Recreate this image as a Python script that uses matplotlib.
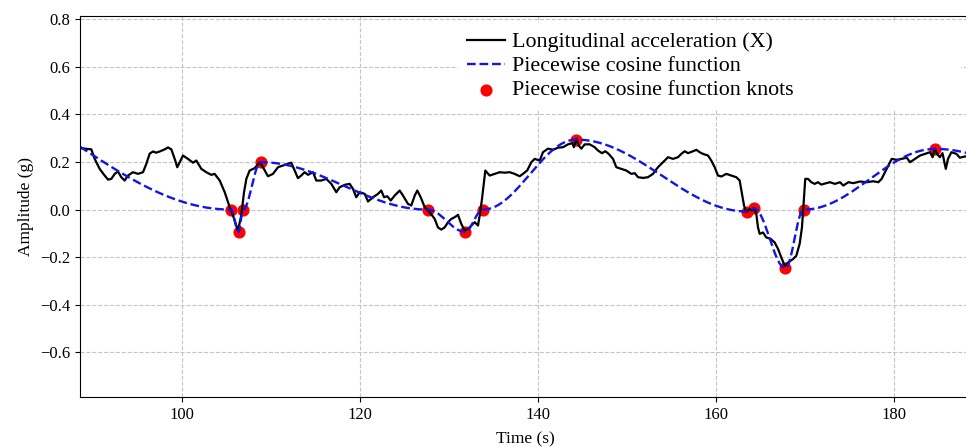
import numpy as np
import matplotlib
matplotlib.use("Agg")
import matplotlib.pyplot as plt

plt.rcParams['font.family'] = ['Liberation Serif', 'DejaVu Serif']

# longitudinal acceleration trace (s, g)
time_s = [
    88.6, 89.81, 90.19, 90.75, 91.31, 91.69, 92.06, 92.44, 92.81, 93.18,
    93.56, 93.93, 94.49, 95.06, 95.62, 95.99, 96.37, 96.74, 97.11, 97.49,
    98.06, 98.43, 98.80, 99.18, 99.47, 99.74, 100.11, 100.67, 101.24, 101.61,
    102.17, 102.73, 103.29, 103.67, 104.24, 104.80, 105.36, 105.73, 106.29, 106.66,
    106.97, 107.23, 107.6, 108.17, 108.73, 109.1, 109.66, 110.22, 110.79, 111.35,
    111.91, 112.28, 112.66, 113.03, 113.4, 113.78, 114.16, 114.72, 115.09, 115.65,
    116.21, 116.78, 117.34, 117.72, 118.28, 118.84, 119.21, 119.58, 119.97, 120.53,
    120.9, 121.46, 122.02, 122.39, 122.7, 123.07, 123.45, 123.9, 124.46, 124.83,
    125.39, 125.76, 126.15, 126.44, 126.82, 127.27, 127.83, 128.39, 128.76, 129.13,
    129.51, 129.89, 130.26, 130.64, 131.01, 131.38, 131.76, 132.13, 132.51, 132.89,
    133.26, 133.45, 133.71, 133.93, 134.08, 134.57, 135.13, 135.7, 136.26, 136.82,
    137.38, 137.94, 138.31, 138.8, 139.25, 139.63, 140.19, 140.56, 141.12, 141.69,
    142.25, 142.81, 143.37, 143.85, 144.04, 144.3, 144.57, 144.87, 145.25, 145.81,
    146.37, 146.74, 147.19, 147.56, 147.94, 148.43, 148.8, 149.36, 149.92, 150.49,
    150.87, 151.24, 151.8, 152.36, 152.92, 153.48, 154.04, 154.61, 155.17, 155.73,
    156.1, 156.48, 156.85, 157.42, 157.79, 158.17, 158.54, 159.1, 159.47, 159.85,
    160.22, 160.6, 161.16, 161.72, 162.28, 162.66, 162.92, 163.15, 163.4, 163.78,
    164.04, 164.27, 164.53, 164.72, 164.91, 165.28, 165.65, 166.14, 166.59, 166.97,
    167.34, 167.72, 168.09, 168.65, 169.02, 169.4, 169.66, 169.89, 170.03, 170.34,
    170.71, 171.09, 171.46, 171.83, 172.39, 172.81, 173.37, 173.93, 174.31, 174.87,
    175.43, 176.18, 176.93, 177.67, 178.24, 178.61, 179.18, 179.74, 180.3, 180.86,
    181.43, 181.8, 182.36, 182.92, 183.48, 184.04, 184.34, 184.6, 184.85, 185.15,
    185.45, 185.82, 186.07, 186.45, 187.02, 187.39, 187.96, 188.6,
]
accel_g = [
    0.258, 0.253, 0.213, 0.171, 0.143, 0.126, 0.129, 0.150, 0.160, 0.136,
    0.122, 0.143, 0.157, 0.150, 0.157, 0.192, 0.235, 0.244, 0.239, 0.244,
    0.253, 0.261, 0.253, 0.213, 0.178, 0.199, 0.227, 0.213, 0.197, 0.206,
    0.171, 0.157, 0.146, 0.150, 0.122, 0.073, 0.010, -0.025, -0.088, -0.025,
    0.073, 0.129, 0.164, 0.174, 0.199, 0.178, 0.140, 0.150, 0.178, 0.185,
    0.192, 0.197, 0.164, 0.132, 0.143, 0.157, 0.146, 0.157, 0.122, 0.122,
    0.129, 0.108, 0.073, 0.094, 0.104, 0.108, 0.087, 0.052, 0.073, 0.066,
    0.034, 0.052, 0.066, 0.080, 0.052, 0.056, 0.038, 0.059, 0.080, 0.059,
    0.024, 0.017, 0.059, 0.080, 0.052, 0.010, -0.011, -0.039, -0.075, -0.084,
    -0.075, -0.053, -0.039, -0.032, -0.022, -0.060, -0.088, -0.081, -0.067, -0.053,
    -0.067, -0.025, 0.045, 0.115, 0.164, 0.143, 0.150, 0.157, 0.155, 0.157,
    0.150, 0.140, 0.150, 0.165, 0.199, 0.213, 0.206, 0.241, 0.256, 0.251,
    0.260, 0.262, 0.274, 0.279, 0.262, 0.298, 0.269, 0.256, 0.274, 0.274,
    0.262, 0.248, 0.237, 0.245, 0.234, 0.213, 0.178, 0.171, 0.164, 0.150,
    0.153, 0.136, 0.133, 0.136, 0.150, 0.178, 0.199, 0.220, 0.213, 0.220,
    0.234, 0.245, 0.237, 0.245, 0.251, 0.241, 0.234, 0.227, 0.206, 0.178,
    0.143, 0.139, 0.150, 0.143, 0.136, 0.122, 0.066, 0.017, -0.011, 0.003,
    -0.004, 0.007, -0.018, -0.075, -0.102, -0.096, -0.117, -0.123, -0.138, -0.165,
    -0.201, -0.236, -0.222, -0.208, -0.194, -0.144, -0.075, 0.052, 0.129, 0.129,
    0.115, 0.108, 0.115, 0.105, 0.111, 0.115, 0.108, 0.115, 0.101, 0.115,
    0.111, 0.118, 0.115, 0.119, 0.115, 0.129, 0.171, 0.213, 0.209, 0.213,
    0.218, 0.199, 0.213, 0.227, 0.234, 0.241, 0.220, 0.256, 0.234, 0.220,
    0.237, 0.171, 0.213, 0.241, 0.234, 0.218, 0.223, 0.225,
]

# knots of the piecewise cosine fit (first and last lie outside the window)
knot_time = [71.5, 105.5, 106.35, 106.85, 108.85, 127.6, 131.8, 133.8,
             144.3, 163.5, 164.25, 167.8, 169.85, 184.65, 198.0]
knot_accel = [0.53, 0.0, -0.093, 0.0, 0.199, 0.0, -0.093, 0.0,
              0.294, -0.008, 0.005, -0.246, 0.0, 0.255, 0.15]

x_ticks = [100, 120, 140, 160, 180]
y_ticks = [-0.6, -0.4, -0.2, 0.0, 0.2, 0.4, 0.6, 0.8]


def piecewise_cosine(t, kx, ky):
    """
    Evaluate a half-cosine blend between consecutive knots.

    Parameters:
    - t (np.ndarray): times to evaluate at.
    - kx, ky (list): knot times and values.

    Returns:
    - np.ndarray: fitted values.
    """
    kx = np.asarray(kx)
    ky = np.asarray(ky)
    idx = np.clip(np.searchsorted(kx, t) - 1, 0, len(kx) - 2)
    x0, x1 = kx[idx], kx[idx + 1]
    y0, y1 = ky[idx], ky[idx + 1]
    u = (t - x0) / (x1 - x0)
    return y0 + (y1 - y0) * (1 - np.cos(np.pi * u)) / 2


def create_plot():
    fig = plt.figure(figsize=(9.66, 4.47), dpi=100)
    ax = fig.add_axes([80 / 966, 50 / 447, 890 / 966, 381 / 447])

    t_fit = np.linspace(85, 192, 3000)
    y_fit = piecewise_cosine(t_fit, knot_time, knot_accel)

    ax.plot(time_s, accel_g, color='black', linewidth=1.6,
            label='Longitudinal acceleration (X)')
    ax.plot(t_fit, y_fit, color='#1414e6', linestyle='--', linewidth=1.7,
            label='Piecewise cosine function')
    ax.scatter(knot_time, knot_accel, color='red', s=60,
               label='Piecewise cosine function knots')

    ax.set_xlim(88.54, 188.54)
    ax.set_ylim(-0.787, 0.813)
    ax.set_xticks(x_ticks)
    ax.set_yticks(y_ticks)
    ax.tick_params(labelsize=12)
    ax.grid(True, linestyle='--', color='#c4c4c4', linewidth=0.8)
    ax.set_axisbelow(True)

    ax.set_xlabel('Time (s)', fontsize=12.5, labelpad=6)
    ax.set_ylabel('Amplitude (g)', fontsize=12.5)

    # white, borderless legend box stretched across the upper right
    leg = ax.legend(loc='upper left', bbox_to_anchor=(0.4247, 0.0, 0.564, 0.9815),
                    mode='expand', borderaxespad=0, fontsize=15.8,
                    handletextpad=0.33, handlelength=1.73, labelspacing=0.17,
                    fancybox=False, framealpha=1)
    leg.get_frame().set_edgecolor('white')

    fig.savefig('out.png', dpi=100)


create_plot()
